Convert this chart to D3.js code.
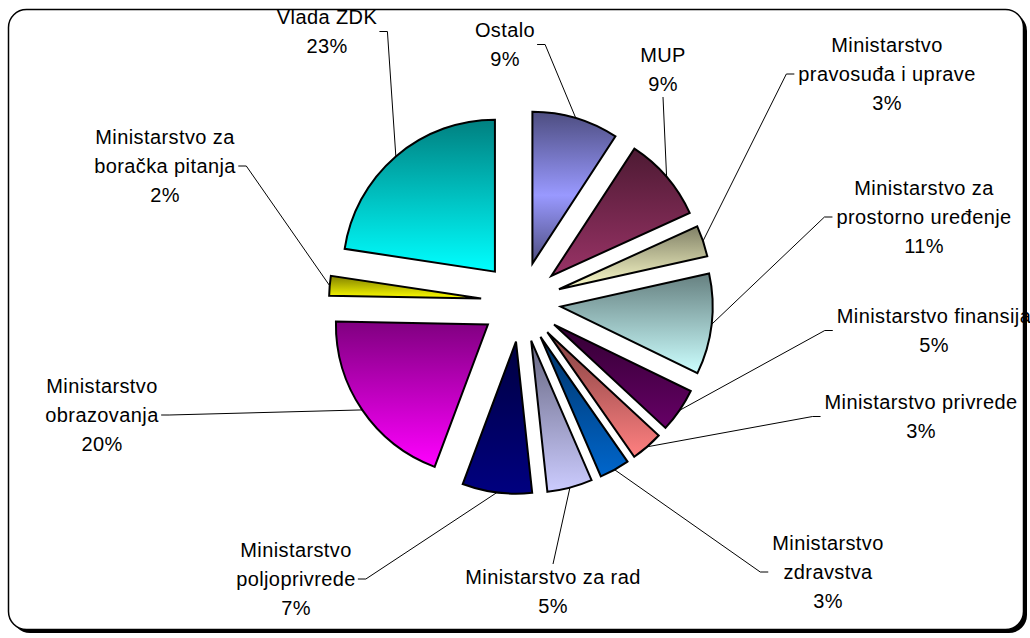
<!DOCTYPE html>
<html>
<head>
<meta charset="utf-8">
<script src="https://cdn.jsdelivr.net/npm/d3@7/dist/d3.min.js"></script>
<style>
  body { margin: 0; background: #fff; }
  svg text { font-family: "Liberation Sans", Arial, sans-serif; font-size: 20px; letter-spacing: 0.4px; }
</style>
</head>
<body>
<div id="chart"></div>
<script>
// slices, clockwise from 12 o'clock
const categories = [
  ['Ostalo'],
  ['MUP'],
  ['Ministarstvo', 'pravosuđa i uprave'],
  ['Ministarstvo za', 'prostorno uređenje'],
  ['Ministarstvo finansija'],
  ['Ministarstvo privrede'],
  ['Ministarstvo', 'zdravstva'],
  ['Ministarstvo za rad'],
  ['Ministarstvo', 'poljoprivrede'],
  ['Ministarstvo', 'obrazovanja'],
  ['Ministarstvo za', 'boračka pitanja'],
  ['Vlada ZDK']
];
const values = [9.2, 9.0, 3.3, 10.7, 4.7, 3.4, 3.2, 4.8, 7.4, 19.6, 2.1, 22.6];

// fill colours (Excel palette), gradient dark -> base
const baseColors = ['#9999FF', '#993366', '#FFFFCC', '#CCFFFF', '#660066', '#FF8080',
                    '#0066CC', '#CCCCFF', '#000080', '#FF00FF', '#FFFF00', '#00FFFF'];
const gradStyle = ['center', 'down', 'down', 'down', 'down', 'down',
                   'down', 'down', 'down', 'down', 'down', 'down'];

// label layout: centre x and first-line y, and where the leader attaches
const labelPos = [[505, 30], [663, 55], [887, 45], [924, 188], [934, 316], [921, 402],
                  [828, 543], [553, 577], [296, 550], [102, 386], [165, 137], [327, 17]];
const leaderSide = ['r', 'b', 'l', 'l', 'l', 'l', 'l', 't', 'r', 'r', 'r', 'r'];

const width = 1030, height = 638;
const cx = 521, cy = 302, radius = 152, explode = 40, lineH = 29;

const svg = d3.select('#chart')
  .append('svg')
  .attr('width', width)
  .attr('height', height);

const defs = svg.append('defs');

// chart area frame with shadow (drawn first, content on top)
svg.append('rect')
  .attr('x', 12).attr('y', 13)
  .attr('width', 1015).attr('height', 620)
  .attr('rx', 18)
  .attr('fill', '#000');
svg.append('rect')
  .attr('x', 8.5).attr('y', 9.5)
  .attr('width', 1015).attr('height', 620)
  .attr('rx', 18)
  .attr('fill', '#fff')
  .attr('stroke', '#000')
  .attr('stroke-width', 1.5);

const total = d3.sum(values);
const data = values.map((v, i) => ({ value: v, lines: categories[i], i }));

const pie = d3.pie().sort(null).value(d => d.value);
const arc = d3.arc().innerRadius(0).outerRadius(radius);
const arcs = pie(data);

// gradients
arcs.forEach(a => {
  const base = d3.rgb(baseColors[a.index]);
  const dark = d3.rgb(base.r * 0.5, base.g * 0.5, base.b * 0.5);
  const g = defs.append('linearGradient')
    .attr('id', 'grad' + a.index)
    .attr('x1', 0).attr('y1', 0).attr('x2', 0).attr('y2', 1);
  if (gradStyle[a.index] === 'center') {
    g.append('stop').attr('offset', '0%').attr('stop-color', dark);
    g.append('stop').attr('offset', '55%').attr('stop-color', base);
    g.append('stop').attr('offset', '100%').attr('stop-color', dark);
  } else {
    g.append('stop').attr('offset', '0%').attr('stop-color', dark);
    g.append('stop').attr('offset', '100%').attr('stop-color', base);
  }
});

const midAngle = a => (a.startAngle + a.endAngle) / 2;
const offset = a => {
  const m = midAngle(a);
  return [Math.sin(m) * explode, -Math.cos(m) * explode];
};

const pieG = svg.append('g').attr('transform', `translate(${cx},${cy})`);

pieG.selectAll('path.slice')
  .data(arcs)
  .enter()
  .append('path')
  .attr('class', 'slice')
  .attr('d', arc)
  .attr('transform', d => `translate(${offset(d)[0]},${offset(d)[1]})`)
  .attr('fill', d => `url(#grad${d.index})`)
  .attr('stroke', '#000')
  .attr('stroke-width', 2)
  .attr('stroke-linejoin', 'miter');

// labels
const labelG = svg.append('g');
const labels = labelG.selectAll('text')
  .data(arcs)
  .enter()
  .append('text')
  .attr('text-anchor', 'middle')
  .attr('dominant-baseline', 'central')
  .attr('fill', '#000');

labels.each(function (d) {
  const t = d3.select(this);
  const [x, y] = labelPos[d.index];
  const lines = d.data.lines.concat([Math.round(d.value / total * 100) + '%']);
  lines.forEach((s, k) => {
    t.append('tspan').attr('x', x).attr('y', y + k * lineH).text(s);
  });
});

// leader lines
labels.each(function (d) {
  const bb = this.getBBox();
  const m = midAngle(d);
  const o = offset(d);
  const px = cx + o[0] + Math.sin(m) * radius;
  const py = cy + o[1] - Math.cos(m) * radius;
  const side = leaderSide[d.index];
  let pts;
  const midY = bb.y + bb.height / 2;
  const midX = bb.x + bb.width / 2;
  if (side === 'r') {
    pts = [[bb.x + bb.width + 2, midY], [bb.x + bb.width + 10, midY], [px, py]];
  } else if (side === 'l') {
    pts = [[bb.x - 4, midY], [bb.x - 12, midY], [px, py]];
  } else if (side === 'b') {
    pts = [[midX, bb.y + bb.height + 2], [px, py]];
  } else {
    pts = [[midX, bb.y - 2], [px, py]];
  }
  labelG.append('path')
    .attr('d', d3.line()(pts))
    .attr('fill', 'none')
    .attr('stroke', '#000')
    .attr('stroke-width', 1);
});
</script>
</body>
</html>
